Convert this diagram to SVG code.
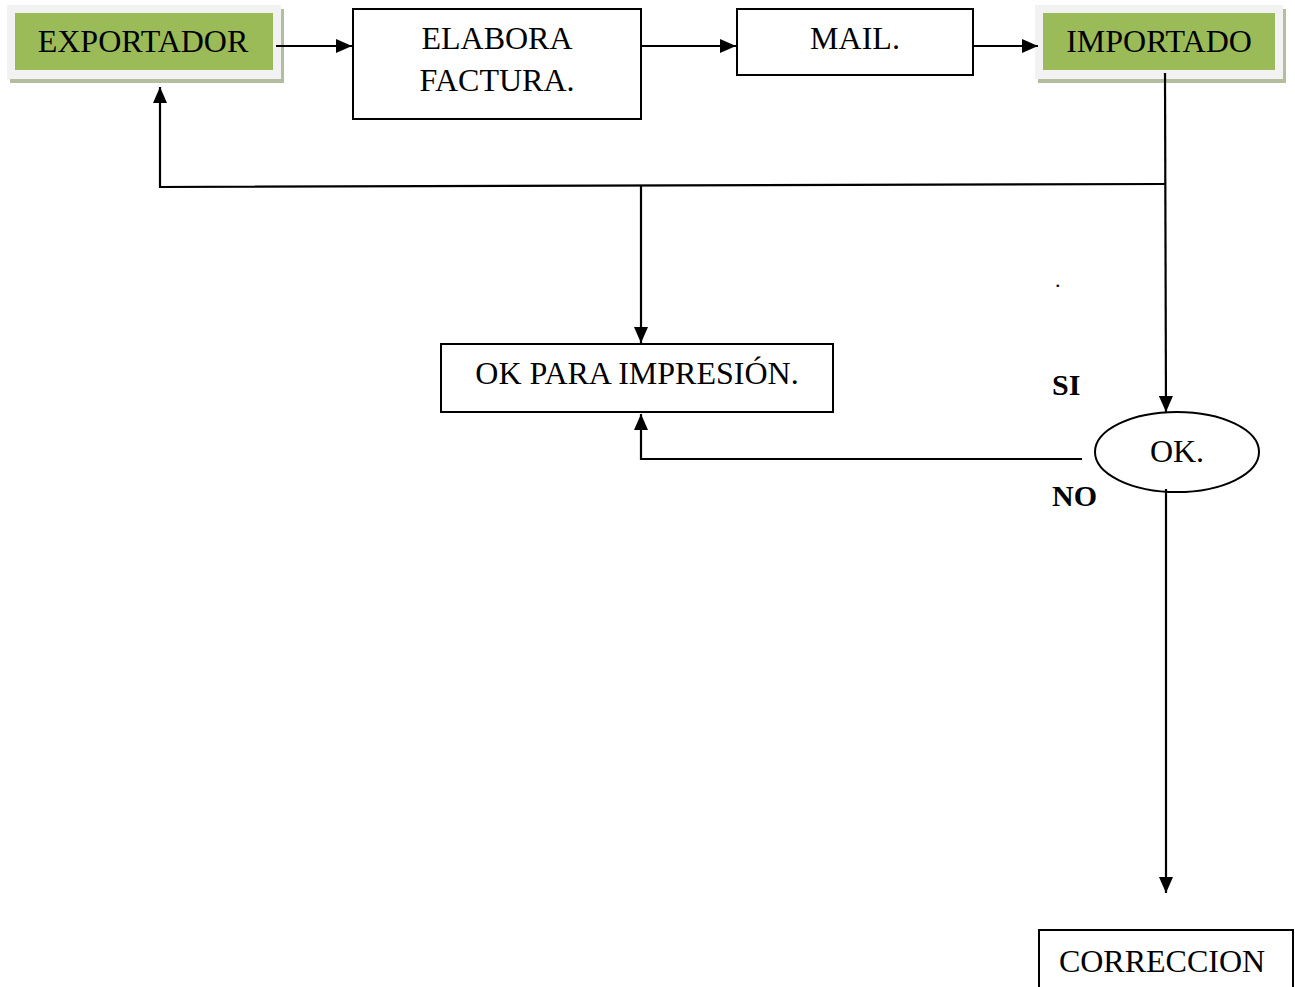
<svg xmlns="http://www.w3.org/2000/svg" width="1295" height="987" viewBox="0 0 1295 987">
<style>
text{font-family:"Liberation Serif","Times New Roman",serif;fill:#000}
.t{font-size:32px;text-anchor:middle}
.b{font-size:30px;font-weight:bold}
.box{fill:#fff;stroke:#000;stroke-width:2}
.frame{fill:#f2f2f2}
.shadow{fill:#b4bd9e}
.green{fill:#9bbb59}
.c{fill:none;stroke:#000;stroke-width:2.2}
</style>
<defs>
<marker id="ah" viewBox="0 0 16 14" refX="16" refY="7" markerWidth="16" markerHeight="14" markerUnits="userSpaceOnUse" orient="auto">
<path d="M0,0 L16,7 L0,14 Z" fill="#000"/>
</marker>
</defs>
<rect width="1295" height="987" fill="#fff"/>
<g id="exportador">
<rect class="shadow" x="10" y="9" width="274" height="74"/>
<rect class="frame" x="7" y="5" width="274" height="74"/>
<rect class="green" x="15" y="13" width="258" height="57"/>
<text class="t" x="143" y="52">EXPORTADOR</text>
</g>
<g id="elabora">
<rect class="box" x="353" y="9" width="288" height="110"/>
<text class="t" x="497" y="49">ELABORA</text>
<text class="t" x="497" y="91">FACTURA.</text>
</g>
<g id="mail">
<rect class="box" x="737" y="9" width="236" height="66"/>
<text class="t" x="855" y="49">MAIL.</text>
</g>
<g id="importado">
<rect class="shadow" x="1038" y="9" width="248" height="74"/>
<rect class="frame" x="1035" y="5" width="248" height="74"/>
<rect class="green" x="1043" y="13" width="232" height="57"/>
<text class="t" x="1159" y="52">IMPORTADO</text>
</g>
<g id="okpara">
<rect class="box" x="441" y="344" width="392" height="68"/>
<text class="t" x="637" y="384">OK PARA IMPRESIÓN.</text>
</g>
<g id="ok">
<ellipse cx="1177" cy="452" rx="82" ry="40" fill="#fff" stroke="#000" stroke-width="2"/>
<text class="t" x="1177" y="462">OK.</text>
</g>
<g id="correccion">
<rect class="box" x="1039" y="930" width="254" height="70"/>
<text class="t" x="1162" y="972">CORRECCION</text>
</g>
<g id="labels">
<text x="1055" y="287" style="font-size:22px">.</text>
<text class="b" x="1052" y="395">SI</text>
<text class="b" x="1052" y="506">NO</text>
</g>
<g id="connectors">
<line class="c" x1="276" y1="46" x2="352" y2="46" marker-end="url(#ah)"/>
<line class="c" x1="641" y1="46" x2="736" y2="46" marker-end="url(#ah)"/>
<line class="c" x1="973" y1="46" x2="1038" y2="46" marker-end="url(#ah)"/>
<line class="c" x1="1165" y1="73" x2="1166" y2="412" marker-end="url(#ah)"/>
<polyline class="c" points="1165,184 160,187 160,87" marker-end="url(#ah)"/>
<line class="c" x1="641" y1="186" x2="641" y2="343" marker-end="url(#ah)"/>
<polyline class="c" points="1082,459 641,459 641,414" marker-end="url(#ah)"/>
<line class="c" x1="1166" y1="489" x2="1166" y2="893" marker-end="url(#ah)"/>
</g>
</svg>
